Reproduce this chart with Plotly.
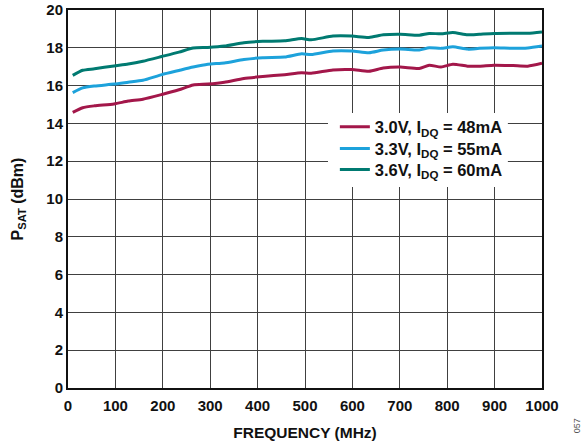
import plotly.graph_objects as go

freq = [10, 31, 56, 97, 127, 158, 198, 234, 264, 295, 330, 371, 411, 457, 493, 513,
        559, 599, 635, 665, 701, 741, 762, 787, 812, 843, 868, 899, 939, 970, 1000]

psat_30 = [14.58, 14.83, 14.93, 15.03, 15.18, 15.28, 15.53, 15.78, 16.03, 16.08, 16.18, 16.38,
           16.48, 16.58, 16.68, 16.65, 16.83, 16.85, 16.76, 16.93, 16.98, 16.91, 17.08, 16.98,
           17.13, 17.03, 17.03, 17.08, 17.06, 17.03, 17.18]
psat_33 = [15.63, 15.88, 15.98, 16.08, 16.18, 16.28, 16.58, 16.8, 16.98, 17.13, 17.2, 17.38,
           17.48, 17.51, 17.68, 17.64, 17.83, 17.83, 17.74, 17.88, 17.93, 17.88, 18.0, 17.97,
           18.05, 17.93, 17.97, 18.0, 17.97, 17.99, 18.09]
psat_36 = [16.54, 16.81, 16.89, 17.04, 17.14, 17.29, 17.54, 17.77, 17.99, 18.02, 18.09, 18.27,
           18.34, 18.37, 18.49, 18.42, 18.62, 18.62, 18.55, 18.69, 18.72, 18.67, 18.76, 18.74,
           18.81, 18.69, 18.72, 18.76, 18.77, 18.77, 18.84]

series_names = ["3.0V, I<sub>DQ</sub> = 48mA", "3.3V, I<sub>DQ</sub> = 55mA", "3.6V, I<sub>DQ</sub> = 60mA"]
series_colors = ["#A3174A", "#1DA2DB", "#007A71"]
legend_ids = ["legend", "legend2", "legend3"]
legend_rows = [0.6905, 0.6331, 0.5775]

x_ticks = [0, 100, 200, 300, 400, 500, 600, 700, 800, 900, 1000]
y_ticks = [0, 2, 4, 6, 8, 10, 12, 14, 16, 18, 20]

FONT = "Liberation Sans, Arial, sans-serif"
INK = "#111111"

fig = go.Figure()
for name, ys, col, lg in zip(series_names, [psat_30, psat_33, psat_36], series_colors, legend_ids):
    fig.add_trace(go.Scatter(x=freq, y=ys, mode="lines", name=name, legend=lg,
                             line=dict(color=col, width=3, shape="spline", smoothing=0.6)))

axis_common = dict(showgrid=True, gridcolor="#404040", gridwidth=1,
                   showline=True, linecolor=INK, linewidth=2, mirror=True,
                   zeroline=False, automargin=False, ticklabeloverflow="allow",
                   tickfont=dict(family=FONT, size=15, color=INK, weight="bold"))

fig.update_xaxes(range=[0, 1000], tickvals=x_ticks, ticktext=[str(v) for v in x_ticks],
                 ticks="outside", ticklen=3, tickcolor="rgba(0,0,0,0)",
                 title=dict(text="FREQUENCY (MHz)", standoff=14,
                            font=dict(family=FONT, size=15.5, color=INK, weight="bold")),
                 **axis_common)
fig.update_yaxes(range=[0, 20], tickvals=y_ticks, ticktext=[str(v) for v in y_ticks],
                 ticks="",
                 title=dict(text="P<sub>SAT</sub> (dBm)", standoff=19,
                            font=dict(family=FONT, size=16, color=INK, weight="bold")),
                 **axis_common)

legend_style = dict(xanchor="left", yanchor="middle", bgcolor="rgba(0,0,0,0)", borderwidth=0,
                    font=dict(family=FONT, size=16.5, color=INK, weight="bold"))
legend_layout = {lg: dict(x=0.563, y=yy, **legend_style) for lg, yy in zip(legend_ids, legend_rows)}

fig.update_layout(
    width=587, height=446,
    margin=dict(l=68, r=45, t=10, b=58),
    paper_bgcolor="white", plot_bgcolor="white",
    showlegend=True,
    shapes=[dict(type="rect", xref="paper", yref="paper", x0=0.5485, x1=0.928, y0=0.532, y1=0.7275,
                 fillcolor="white", line=dict(width=0), layer="above")],
    annotations=[dict(text="057", x=1.0886, y=-0.124, xref="paper", yref="paper",
                      textangle=-90, showarrow=False,
                      font=dict(family=FONT, size=9, color="#555555"))],
    **legend_layout,
)

fig.write_html("out.html", config={"displayModeBar": False},
               post_script="document.body.style.margin='0';")
